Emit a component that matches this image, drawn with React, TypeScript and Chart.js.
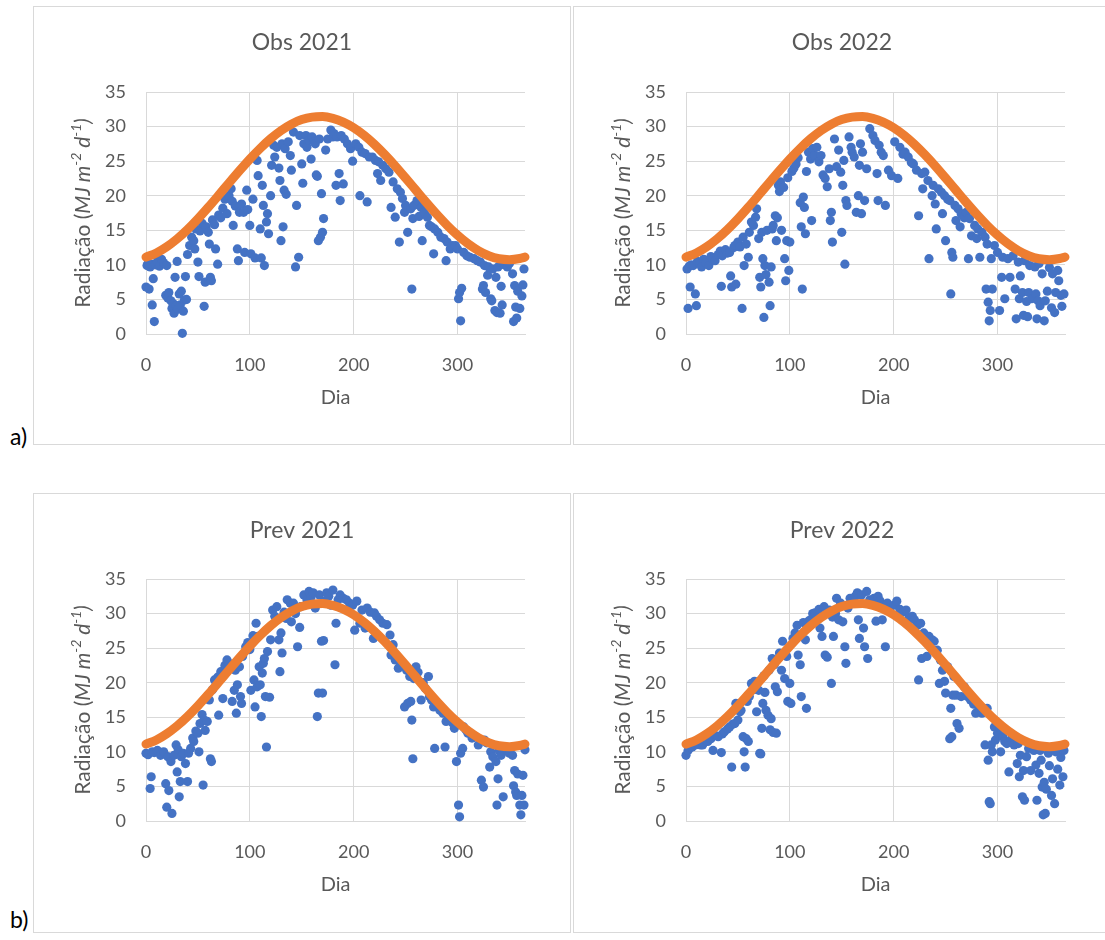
import React, { useEffect, useRef } from "react";
import { Chart, registerables } from "chart.js";

Chart.register(...registerables);

const FONT = "Lato, 'Open Sans', sans-serif";
const TEXT_COLOR = "#595959";
const GRID_COLOR = "#d9d9d9";
const BLUE = "#4472C4";
const ORANGE = "#ED7D31";

const X_TICK_STEP = 100;
const X_MAX = 365;
const Y_TICK_STEP = 5;
const Y_MAX = 35;

const PANEL_TITLES = ["Obs 2021", "Obs 2022", "Prev 2021", "Prev 2022"];
const X_TITLE = "Dia";

// Orange reference curve (read every 10 days)
const ORANGE_DAYS = [0, 10, 20, 30, 40, 50, 60, 70, 80, 90, 100, 110, 120, 130, 140, 150, 160, 170, 180, 190, 200, 210, 220, 230, 240, 250, 260, 270, 280, 290, 300, 310, 320, 330, 340, 350, 360, 365];
const ORANGE_VALUES = [11.12, 11.72, 12.62, 13.76, 15.12, 16.66, 18.33, 20.08, 21.86, 23.61, 25.3, 26.85, 28.24, 29.42, 30.35, 31.01, 31.37, 31.44, 31.19, 30.65, 29.83, 28.74, 27.43, 25.93, 24.3, 22.56, 20.79, 19.02, 17.31, 15.72, 14.3, 13.06, 12.06, 11.32, 10.88, 10.75, 10.92, 11.12];

const OBS_2021: [number, number][] = [[0,6.8],[1,9.9],[2,10.2],[3,6.5],[4,9.7],[5,10.1],[6,4.2],[7,8.0],[8,1.8],[9,10.0],[11,10.5],[13,9.8],[15,10.8],[17,10.3],[19,5.6],[20,9.9],[21,5.2],[22,6.0],[24,4.8],[25,3.7],[26,4.4],[27,3.0],[28,8.2],[29,4.1],[30,10.5],[31,3.6],[32,5.8],[33,4.2],[34,6.2],[35,0.1],[36,3.3],[37,4.9],[38,8.3],[39,5.0],[40,11.5],[42,12.8],[44,14.0],[46,13.5],[47,12.3],[48,15.2],[50,10.4],[51,8.3],[52,14.9],[54,16.0],[56,4.0],[57,7.5],[58,15.5],[60,14.7],[61,13.0],[62,8.2],[63,7.7],[64,16.5],[66,15.8],[67,12.3],[69,10.1],[70,17.2],[72,16.8],[74,18.2],[76,19.5],[78,17.4],[80,20.0],[82,21.0],[83,19.2],[84,15.7],[86,18.5],[88,12.3],[89,10.6],[90,17.6],[92,18.8],[94,17.6],[95,11.8],[97,20.8],[98,18.0],[100,15.7],[101,11.6],[103,19.5],[105,11.0],[107,25.1],[108,22.9],[110,15.2],[111,11.0],[112,21.5],[113,18.6],[114,9.9],[116,16.2],[117,17.4],[118,14.5],[120,20.0],[121,24.4],[123,27.3],[124,25.6],[126,27.0],[128,24.0],[129,22.2],[130,13.5],[131,27.5],[132,15.5],[133,20.8],[134,26.8],[135,20.2],[137,27.8],[139,25.8],[140,23.7],[142,29.2],[144,9.7],[145,18.6],[147,11.1],[148,28.7],[150,24.6],[151,21.8],[152,27.5],[154,28.7],[155,27.0],[157,28.0],[159,25.3],[160,28.5],[162,27.8],[163,27.5],[164,23.0],[165,22.8],[166,13.5],[167,28.2],[168,14.0],[169,20.3],[170,14.7],[171,16.7],[173,26.6],[175,28.2],[178,29.5],[180,28.5],[181,29.0],[183,21.5],[184,28.5],[186,23.2],[187,19.3],[188,28.7],[190,21.7],[191,28.2],[194,27.5],[197,26.8],[199,25.0],[202,27.5],[205,27.0],[206,20.0],[208,26.3],[211,26.1],[213,19.1],[215,25.6],[218,25.6],[221,25.1],[223,23.2],[224,24.9],[226,22.2],[228,24.4],[231,23.9],[234,23.4],[236,18.3],[238,22.0],[240,16.9],[242,21.0],[244,13.3],[245,20.5],[247,19.6],[249,17.6],[250,18.6],[252,14.7],[255,18.1],[256,6.5],[257,16.7],[258,18.6],[261,19.3],[263,17.0],[265,18.3],[266,13.5],[268,17.6],[271,16.9],[273,15.7],[275,15.5],[277,11.6],[278,15.2],[281,14.7],[284,14.0],[287,13.8],[289,10.6],[290,13.3],[293,12.3],[295,12.8],[298,12.8],[300,12.3],[301,5.1],[302,6.0],[303,1.9],[304,6.6],[306,11.8],[309,11.3],[312,11.1],[316,10.9],[319,10.6],[322,10.4],[324,6.5],[325,7.0],[326,9.9],[327,6.0],[329,8.5],[330,9.7],[332,5.1],[333,4.8],[334,9.4],[336,3.4],[337,8.2],[338,3.1],[339,9.7],[341,3.0],[342,6.9],[343,4.2],[345,10.0],[348,9.7],[350,10.2],[353,8.7],[354,1.8],[355,7.0],[356,3.9],[357,2.3],[358,6.2],[360,3.7],[362,5.5],[363,7.1],[364,9.4]];

const OBS_2022: [number, number][] = [[1,9.4],[2,3.7],[3,9.8],[4,6.8],[5,10.0],[7,9.9],[9,5.8],[10,4.1],[11,10.5],[13,10.2],[15,9.7],[17,10.8],[19,10.3],[22,9.9],[24,11.2],[26,10.9],[28,10.6],[31,11.5],[33,12.0],[34,6.9],[35,11.3],[38,12.2],[40,11.7],[42,11.8],[43,8.4],[44,6.8],[46,12.5],[47,12.8],[48,7.2],[50,13.3],[52,12.6],[54,3.7],[55,14.0],[56,9.9],[58,13.0],[60,11.1],[61,14.7],[63,16.2],[65,15.7],[67,16.9],[68,18.1],[70,13.8],[71,8.2],[72,6.8],[73,14.7],[74,10.9],[75,2.4],[76,9.9],[77,8.6],[78,15.0],[80,7.5],[81,4.1],[82,9.7],[83,15.2],[84,15.7],[86,17.1],[87,13.5],[88,16.8],[89,21.5],[90,20.6],[91,22.0],[92,15.0],[94,21.2],[95,10.9],[96,7.7],[97,13.5],[98,22.6],[99,9.2],[100,13.3],[102,23.5],[104,24.0],[106,24.6],[108,25.5],[110,19.0],[111,15.5],[112,6.5],[113,19.8],[114,18.3],[115,14.5],[116,23.5],[118,26.3],[120,25.3],[121,16.4],[122,26.8],[124,25.8],[126,27.0],[128,24.9],[130,25.8],[132,23.0],[134,22.5],[136,21.3],[138,23.9],[139,16.4],[140,17.6],[141,13.3],[143,28.2],[145,24.2],[147,26.6],[149,23.4],[150,14.7],[151,21.5],[152,25.1],[153,10.1],[154,19.3],[155,18.6],[157,28.5],[159,27.0],[160,26.3],[162,25.6],[164,17.6],[166,20.0],[167,24.4],[168,27.5],[169,17.4],[170,26.3],[172,19.3],[174,23.9],[177,29.7],[180,28.7],[182,28.0],[184,23.2],[185,19.3],[186,27.3],[188,26.3],[190,25.8],[192,18.6],[195,23.7],[198,22.9],[201,27.8],[204,22.5],[206,27.0],[209,26.0],[211,26.3],[214,25.6],[217,24.8],[219,24.6],[222,23.7],[224,17.1],[227,23.2],[228,21.0],[230,23.4],[233,22.2],[234,10.9],[237,20.0],[238,21.5],[240,18.8],[241,15.2],[243,21.0],[246,20.5],[247,17.4],[249,20.0],[250,13.5],[252,19.5],[254,19.3],[255,5.8],[256,11.8],[257,11.1],[259,18.6],[260,16.4],[262,18.1],[264,15.5],[265,17.4],[268,16.8],[270,17.6],[272,10.9],[273,16.7],[275,14.2],[278,15.7],[280,13.8],[281,15.2],[283,11.1],[285,14.7],[288,14.0],[289,6.5],[290,13.0],[291,4.6],[292,1.9],[293,3.4],[294,10.9],[295,6.5],[297,12.8],[300,11.8],[302,3.4],[304,8.2],[305,11.1],[307,5.1],[310,10.9],[312,8.2],[315,11.3],[317,6.5],[318,2.2],[320,10.4],[321,5.1],[322,8.4],[324,6.0],[325,2.7],[326,10.6],[328,4.7],[329,2.5],[330,6.0],[331,9.9],[333,5.1],[336,9.7],[337,5.8],[338,2.2],[339,4.8],[340,10.2],[341,4.1],[343,8.7],[345,1.9],[346,4.8],[348,6.2],[350,9.6],[352,3.8],[353,8.7],[355,3.1],[356,6.0],[358,9.2],[359,7.7],[361,5.6],[362,4.0],[364,5.8]];

const PREV_2021: [number, number][] = [[0,9.8],[2,9.6],[4,4.7],[5,6.4],[6,10.0],[8,9.9],[11,10.2],[14,9.5],[17,10.0],[19,5.4],[20,2.0],[21,9.3],[22,4.4],[24,8.6],[25,1.1],[27,9.5],[29,11.0],[30,7.1],[31,10.3],[32,3.5],[33,5.7],[34,9.3],[36,9.8],[38,8.3],[40,5.7],[41,9.8],[43,10.5],[45,12.0],[46,11.5],[48,13.0],[50,12.7],[51,10.0],[52,14.1],[54,15.4],[55,5.2],[56,14.6],[57,13.1],[59,14.4],[61,17.5],[62,9.0],[63,8.6],[64,19.0],[66,20.4],[69,20.8],[70,15.3],[72,21.6],[74,17.7],[76,22.5],[78,23.3],[80,22.8],[83,17.3],[85,18.9],[86,21.8],[87,15.6],[88,19.7],[90,22.3],[91,18.0],[92,17.0],[93,23.8],[96,25.2],[98,25.8],[100,24.8],[101,18.9],[103,26.8],[104,20.4],[105,16.5],[106,28.6],[107,19.4],[108,26.7],[109,22.3],[110,19.7],[111,15.1],[112,21.4],[113,22.8],[114,23.5],[115,18.0],[116,10.7],[117,24.5],[119,17.9],[120,26.2],[122,30.5],[124,29.6],[126,31.0],[128,26.2],[129,21.6],[130,27.2],[131,24.3],[133,30.2],[135,29.3],[136,32.0],[139,31.5],[140,28.8],[142,31.5],[144,30.0],[146,25.2],[148,28.0],[149,31.0],[152,32.7],[155,32.0],[157,33.2],[159,32.4],[161,33.0],[163,30.8],[165,15.1],[166,18.5],[167,32.7],[169,26.0],[170,18.5],[171,26.1],[172,31.8],[174,33.0],[176,32.5],[178,31.2],[180,33.4],[182,22.6],[183,28.6],[185,32.0],[187,32.7],[190,32.2],[193,32.0],[196,31.5],[199,31.2],[201,27.6],[203,31.8],[206,28.6],[208,30.5],[211,27.9],[213,30.8],[216,30.2],[219,26.4],[220,30.1],[222,29.6],[225,29.1],[228,28.6],[232,28.4],[235,26.9],[236,24.0],[238,25.5],[240,23.3],[243,22.1],[245,23.0],[247,22.5],[249,16.5],[251,21.8],[252,17.0],[254,20.9],[255,17.3],[256,14.6],[257,9.0],[258,20.6],[260,22.3],[262,21.5],[265,17.5],[267,20.0],[269,19.2],[272,20.9],[273,18.0],[275,17.5],[277,16.5],[278,10.5],[280,16.8],[283,16.0],[286,15.6],[288,10.7],[289,14.4],[292,15.0],[295,14.2],[297,13.4],[299,8.6],[301,2.3],[302,0.6],[303,9.8],[305,10.5],[306,13.6],[308,13.2],[310,12.7],[314,12.0],[317,12.2],[320,11.0],[323,5.9],[325,4.9],[326,11.7],[328,11.3],[331,7.8],[332,10.0],[334,9.3],[337,8.6],[338,2.3],[339,6.1],[340,10.2],[342,9.5],[344,3.5],[346,10.4],[348,10.2],[350,9.8],[353,9.5],[354,5.1],[355,7.3],[356,4.2],[357,3.7],[358,6.8],[360,2.3],[361,0.9],[362,3.7],[363,6.6],[364,2.3],[365,10.3]];

const PREV_2022: [number, number][] = [[0,9.5],[2,10.2],[4,10.6],[6,10.7],[9,11.0],[11,11.2],[14,11.0],[16,11.0],[19,11.6],[21,11.5],[24,11.9],[26,10.2],[28,12.4],[31,12.2],[34,9.9],[35,12.6],[37,12.9],[40,13.3],[42,13.6],[44,7.8],[45,14.0],[47,14.1],[48,17.0],[50,14.6],[52,15.8],[53,16.0],[55,12.2],[56,10.0],[57,7.8],[58,11.9],[59,17.3],[60,11.5],[61,18.0],[63,19.9],[65,19.0],[66,20.2],[68,15.8],[70,18.9],[71,9.8],[72,9.7],[73,13.4],[74,17.0],[75,21.0],[76,18.6],[77,16.0],[79,15.3],[80,21.8],[81,13.2],[82,14.8],[83,23.5],[84,12.8],[85,22.6],[86,19.4],[87,12.7],[88,18.7],[90,24.3],[92,21.8],[93,26.0],[95,20.6],[97,23.8],[98,17.3],[100,19.9],[101,17.0],[103,26.4],[105,27.2],[107,28.3],[108,24.0],[110,22.6],[111,18.0],[113,28.7],[115,26.2],[116,16.3],[118,28.9],[120,29.1],[122,30.0],[124,30.1],[126,29.4],[128,30.6],[129,27.9],[131,26.7],[133,31.0],[134,24.0],[136,23.7],[138,30.5],[140,19.9],[141,29.5],[142,26.7],[144,30.0],[145,32.2],[147,29.1],[149,31.5],[151,28.8],[153,25.2],[154,22.8],[156,30.8],[158,32.2],[160,31.8],[161,31.5],[163,32.5],[165,33.0],[166,29.1],[167,26.4],[169,32.7],[171,27.9],[172,25.2],[174,33.2],[175,23.5],[177,32.0],[179,31.8],[181,32.2],[183,28.9],[185,32.5],[187,31.8],[189,29.1],[191,31.3],[192,25.2],[194,31.5],[197,31.0],[200,31.2],[203,31.8],[206,30.6],[209,30.2],[212,30.5],[215,29.4],[218,29.6],[220,29.1],[223,28.3],[224,20.4],[226,28.6],[227,23.5],[229,27.2],[232,23.8],[234,26.7],[237,26.2],[239,26.0],[242,24.7],[244,19.9],[245,23.3],[247,21.8],[249,20.2],[250,18.5],[252,22.3],[254,11.9],[255,16.3],[256,12.2],[257,18.2],[258,20.9],[260,18.2],[261,14.1],[263,13.4],[265,18.0],[268,19.4],[271,18.0],[274,17.5],[277,16.9],[279,15.6],[282,16.4],[285,15.6],[288,11.0],[290,16.3],[291,8.8],[292,2.8],[293,2.5],[294,11.0],[295,10.0],[297,13.6],[298,11.7],[300,12.7],[302,13.5],[303,10.0],[305,12.2],[307,11.5],[309,11.2],[311,7.1],[313,11.8],[316,11.0],[319,8.3],[320,11.2],[321,6.4],[322,9.5],[324,3.5],[325,7.3],[326,3.0],[328,9.3],[330,10.5],[332,7.3],[335,10.2],[337,8.1],[338,3.0],[340,6.9],[341,10.2],[342,8.8],[343,4.9],[344,0.9],[345,5.6],[346,1.1],[347,4.6],[349,9.8],[350,8.0],[352,3.7],[353,6.1],[355,2.5],[356,10.0],[358,7.5],[360,5.2],[361,9.2],[363,6.4],[364,10.2]];

const PANEL_POINTS = [OBS_2021, OBS_2022, PREV_2021, PREV_2022];

// layout constants (px)
const PLOT_LEFT = 113;
const PLOT_TOP = 86;
const PLOT_W = 379;
const PLOT_H = 242;

const panelTextPlugin = {
  id: "panelText",
  afterDraw(chart: any, _args: any, opts: any) {
    const ctx = chart.ctx as CanvasRenderingContext2D;
    const { left, right, top, bottom } = chart.chartArea;
    ctx.save();
    ctx.fillStyle = TEXT_COLOR;
    ctx.textAlign = "center";
    ctx.textBaseline = "middle";
    ctx.font = `23px ${FONT}`;
    ctx.fillText(opts.title, opts.titleX, opts.titleY);
    ctx.font = `20px ${FONT}`;
    ctx.fillText(X_TITLE, (left + right) / 2, bottom + 64);

    const base = 21;
    const segs = [
      { t: "Radiação (", it: false, sup: false },
      { t: "MJ m", it: true, sup: false },
      { t: "-2", it: true, sup: true },
      { t: " d", it: true, sup: false },
      { t: "-1", it: true, sup: true },
      { t: ")", it: true, sup: false },
    ];
    const fontOf = (s: any) => `${s.it ? "italic " : ""}${s.sup ? Math.round(base * 0.65) : base}px ${FONT}`;
    let total = 0;
    const widths: number[] = [];
    for (const s of segs) {
      ctx.font = fontOf(s);
      const w = ctx.measureText(s.t).width;
      widths.push(w);
      total += w;
    }
    ctx.translate(opts.yTitleX, (top + bottom) / 2);
    ctx.rotate(-Math.PI / 2);
    ctx.textAlign = "left";
    let x = -total / 2;
    segs.forEach((s, i) => {
      ctx.font = fontOf(s);
      ctx.fillText(s.t, x, s.sup ? -base * 0.33 : 0);
      x += widths[i];
    });
    ctx.restore();
  },
};

type PanelProps = {
  idx: number;
  left: number;
  top: number;
  width: number;
  height: number;
  titleY: number;
};

function Panel({ idx, left, top, width, height, titleY }: PanelProps) {
  const ref = useRef<HTMLCanvasElement>(null);
  useEffect(() => {
    if (!ref.current) return;
    const points = PANEL_POINTS[idx];
    const chart = new Chart(ref.current, {
      type: "scatter",
      data: {
        datasets: [
          {
            data: ORANGE_DAYS.map((d, i) => ({ x: d, y: ORANGE_VALUES[i] })),
            showLine: true,
            borderColor: ORANGE,
            backgroundColor: ORANGE,
            borderWidth: 9,
            pointRadius: 0,
            cubicInterpolationMode: "monotone",
            borderCapStyle: "round",
            borderJoinStyle: "round",
            clip: false,
            order: 0,
          } as any,
          {
            data: points.map(([x, y]) => ({ x, y })),
            backgroundColor: BLUE,
            borderWidth: 0,
            pointRadius: 4.6,
            clip: false,
            order: 1,
          } as any,
        ],
      },
      options: {
        responsive: false,
        maintainAspectRatio: false,
        animation: false,
        events: [],
        layout: {
          padding: { left: 0, top: PLOT_TOP, right: width - PLOT_LEFT - PLOT_W, bottom: 0 },
        },
        plugins: {
          legend: { display: false },
          tooltip: { enabled: false },
          title: { display: false },
          panelText: { title: PANEL_TITLES[idx], titleX: 269, titleY, yTitleX: 50 },
        } as any,
        scales: {
          x: {
            type: "linear",
            min: 0,
            max: X_MAX,
            afterFit: (s: any) => {
              s.height = height - PLOT_TOP - PLOT_H;
            },
            ticks: {
              stepSize: X_TICK_STEP,
              includeBounds: false,
              color: TEXT_COLOR,
              font: { family: FONT, size: 18 },
              padding: 20,
              maxRotation: 0,
            },
            grid: { color: GRID_COLOR, drawTicks: false, lineWidth: 1 },
            border: { color: GRID_COLOR, width: 1 },
          },
          y: {
            type: "linear",
            min: 0,
            max: Y_MAX,
            afterFit: (s: any) => {
              s.width = PLOT_LEFT;
            },
            ticks: {
              stepSize: Y_TICK_STEP,
              color: TEXT_COLOR,
              font: { family: FONT, size: 18 },
              padding: 20,
            },
            grid: { color: GRID_COLOR, drawTicks: false, lineWidth: 1 },
            border: { color: GRID_COLOR, width: 1 },
          },
        },
      } as any,
      plugins: [panelTextPlugin],
    });
    return () => chart.destroy();
  }, [idx, width, height, titleY]);

  return (
    <canvas
      ref={ref}
      width={width}
      height={height}
      style={{ position: "absolute", left, top, width, height }}
    />
  );
}

const boxStyle = (left: number, top: number, width: number, height: number, right = true): React.CSSProperties => ({
  position: "absolute",
  left,
  top,
  width,
  height,
  boxSizing: "border-box",
  borderTop: `1px solid ${GRID_COLOR}`,
  borderLeft: `1px solid ${GRID_COLOR}`,
  borderBottom: `1px solid ${GRID_COLOR}`,
  borderRight: right ? `1px solid ${GRID_COLOR}` : "none",
});

export default function App() {
  return (
    <div
      style={{
        position: "absolute",
        left: 0,
        top: 0,
        width: 1105,
        height: 940,
        overflow: "hidden",
        background: "#ffffff",
        fontFamily: FONT,
      }}
    >
      <div style={boxStyle(33, 6, 538, 439)} />
      <div style={boxStyle(573, 6, 532, 439, false)} />
      <div style={boxStyle(33, 493, 538, 440)} />
      <div style={boxStyle(573, 493, 532, 440, false)} />
      <Panel idx={0} left={33} top={6} width={537} height={438} titleY={37} />
      <Panel idx={1} left={573} top={6} width={532} height={438} titleY={37} />
      <Panel idx={2} left={33} top={493} width={537} height={439} titleY={38} />
      <Panel idx={3} left={573} top={493} width={532} height={439} titleY={38} />
      <div style={{ position: "absolute", left: 10, top: 425, fontSize: 23, lineHeight: "23px", color: "#000" }}>a)</div>
      <div style={{ position: "absolute", left: 10, top: 908, fontSize: 23, lineHeight: "23px", color: "#000" }}>b)</div>
    </div>
  );
}
